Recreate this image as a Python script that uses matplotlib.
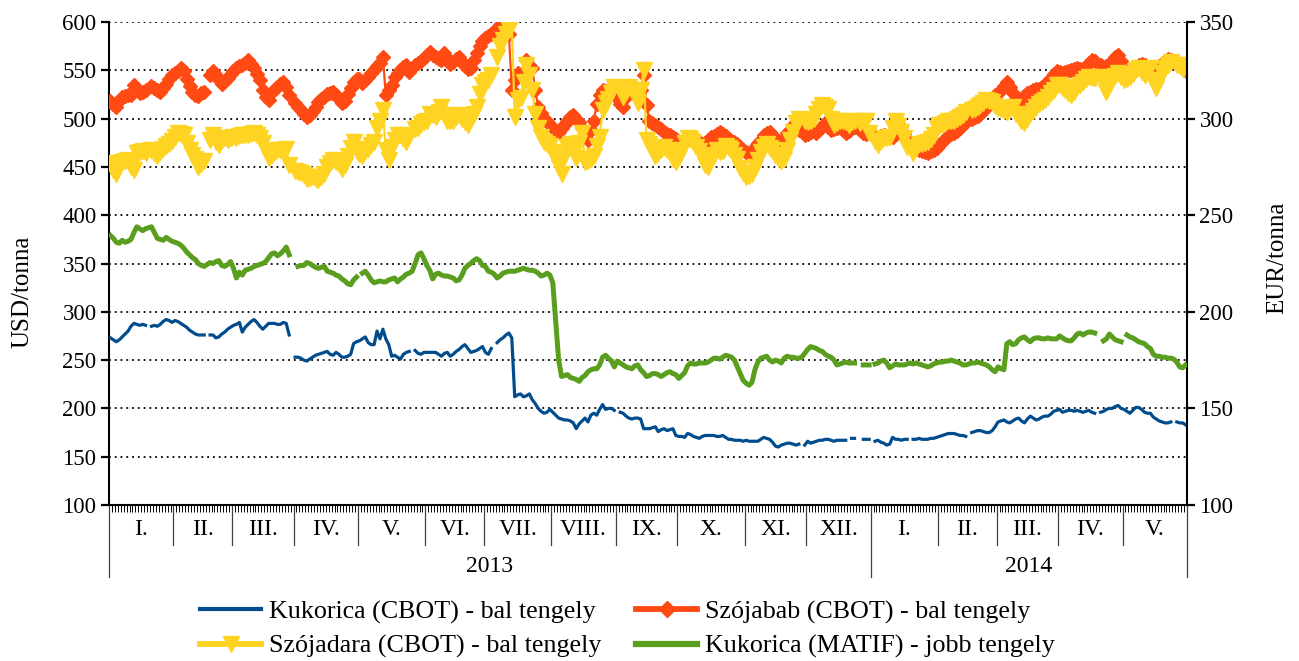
import numpy as np
import pandas as pd
import matplotlib
matplotlib.use("Agg")
import matplotlib.pyplot as plt
import matplotlib.transforms as mtransforms
from matplotlib.lines import Line2D

plt.rcParams['font.family'] = ['Liberation Serif', 'DejaVu Serif']

nan = np.nan

# ---------------- data (one sub-list per month, trading days) ----------------
month_labels = ["I.", "II.", "III.", "IV.", "V.", "VI.", "VII.", "VIII.", "IX.",
                "X.", "XI.", "XII.", "I.", "II.", "III.", "IV.", "V."]
year_labels = ["2013", "2014"]

# Kukorica (CBOT) USD/t
corn_cbot = [
    [273, 271, 269, 271, 274, 277, 280, 285, 288, 287, 286, 287, 286, nan, 285, 286, 285, 287, 290, 292, 291, 289],
    [291, 290, 288, 286, 284, 281, 279, 277, 276, 276, 276, nan, 276, 276, 273, 274, 277, 279, 282, 284],
    [286, 287, 289, 279, 284, 287, 290, 292, 289, 285, 282, 285, 288, 288, 288, 287, 287, 289, 288, 276, nan],
    [253, 253, 252, 250, 249, 251, 253, 255, 256, 257, 258, 259, 256, 255, 258, 256, 253, 253, 254, 256, 267, 269],
    [270, 272, 274, 268, 266, 266, 280, 272, 282, 272, 266, 254, 255, 253, 251, 256, 258, 259, nan, 260, 257, 256, 258],
    [258, 258, 258, 258, 256, 254, 257, 258, 254, 256, 259, 261, 264, 266, 262, 258, 259, 260, 262, 264],
    [258, 256, 262, nan, 268, 271, 273, 276, 278, 273, 212, 214, 215, 212, 213, 215, 209, 205, 200, 197, 195, 196, 199],
    [196, 193, 190, 189, 188, 188, 187, 185, 179, 184, 187, 190, 186, 193, 195, 193, 199, 204, 199, 200, 200, 198],
    [nan, 196, 195, 192, 190, 189, 190, 190, 189, 179, 179, 179, 180, 181, 176, 178, 179, 177, 178, 179, 172],
    [171, 171, 170, 174, 173, 171, 170, 169, 171, 172, 172, 172, 172, 171, 171, 172, 170, 168, 168, 167, 167, 167, 166],
    [167, 166, 166, 166, 166, 168, 170, 169, 168, 165, 161, 160, 162, 163, 164, 164, 163, 162, 163, nan, 162],
    [166, 164, 165, 166, 167, 167, 168, 168, 167, 166, 167, 167, 167, 167, nan, 169, 169, nan, nan, 168, 168, 168],
    [nan, 166, 167, 165, 164, 162, 163, 170, 168, 168, 167, 168, 168, nan, 168, 168, 169, 168, 168, 168, 169, 169, 170],
    [171, 172, 173, 174, 174, 174, 173, 172, 172, 171, nan, 175, 176, 177, 177, 176, 175, 175, 177, 181],
    [186, 187, 188, 186, 185, 187, 189, 190, 187, 185, 189, 192, 190, 188, 189, 191, 192, 192, 194, 197, 198],
    [199, 196, 197, 198, 198, 197, 198, 197, 196, 197, 198, 196, 195, nan, 196, 197, 199, 200, 200, 202, 203, 200],
    [199, 197, 195, 198, 201, 201, 199, 196, 195, 195, 191, 189, 187, 186, 185, 185, 186, nan, 186, 185, 185, 183],
]

# Szójabab (CBOT) USD/t
soybean_cbot = [
    [518, 515, 512, 518, 522, 523, 524, 524, 535, 530, 526, 528, 530, nan, 534, 532, 530, 528, 532, 536, 541, 545],
    [547, 549, 552, 549, 541, 534, 528, 524, 523, 526, 528, nan, 545, 549, 545, 540, 536, 539, 542, 546],
    [549, 552, 554, 555, 558, 561, 557, 552, 546, 540, 530, 522, 519, 528, 531, 533, 536, 538, 533, 524, nan],
    [516, 512, 509, 505, 502, 504, 508, 512, 517, 520, 522, 525, 527, 528, 524, 520, 516, 518, 525, 532, 538, 541],
    [541, 537, 540, 543, 547, 550, 554, 558, 564, 524, 530, 535, 543, 547, 550, 553, 555, 548, nan, 555, 558, 560, 563],
    [566, 569, 566, 564, 562, 561, 568, 563, 557, 559, 562, 564, 559, 554, 551, 552, 561, 568, 575, 580],
    [583, 585, 588, nan, 594, 597, 599, 594, 588, 530, 540, 547, 545, 548, 561, 556, 552, 530, 512, 506, 500, 497, 493],
    [490, 487, 486, 490, 494, 498, 502, 504, 500, 496, 490, 484, 478, 488, 498, 515, 524, 530, 529, 527, 526, 524],
    [nan, 515, 512, 522, 529, 531, 528, 526, 530, 545, 514, 498, 495, 493, 491, 489, 486, 484, 483, 481, 479],
    [475, 474, 476, 479, 481, 481, 479, 476, 474, 475, 478, 481, 482, 484, 486, 484, 482, 479, 477, 476, 474, 471, 467],
    [465, 462, 466, 471, 475, 478, 483, 485, 486, 483, 480, 477, 476, 478, 485, 488, 493, 494, 488, nan, 483],
    [484, 486, 487, 485, 488, 491, 495, 491, 488, 489, 490, 491, 488, 485, 487, 490, 491, nan, 488, 485, 484, 486],
    [nan, 482, 480, 482, 483, 482, 481, 481, 484, 488, 491, 484, 478, nan, 472, 470, 468, 466, 465, 464, 466, 468, 470],
    [473, 476, 479, 482, 484, 485, 487, 490, 493, 496, nan, 500, 502, 503, 505, 508, 511, 515, 519, 524],
    [527, 530, 534, 538, 533, 526, 520, 514, 518, 523, 526, 528, 530, 531, 531, 533, 536, 538, 542, 546, 549],
    [548, 547, 548, 549, 550, 551, 552, 551, 550, 554, 558, 561, 560, nan, 556, 552, 554, 557, 560, 564, 566, 560],
    [551, 548, 547, 549, 552, 555, 557, 555, 552, 550, 549, 551, 554, 557, 560, 562, 561, nan, 557, 555, 553, 549],
]

# Szójadara (CBOT) USD/t
soymeal_cbot = [
    [454, 447, 443, 450, 455, 456, 457, 450, 447, 464, 465, 466, 464, nan, 467, 464, 461, 465, 469, 472, 474, 477],
    [481, 485, 484, 483, 475, 467, 462, 458, 450, 453, 456, nan, 478, 483, 476, 473, 478, 480, 478, 480],
    [481, 480, 482, 483, 483, 483, 484, 485, 483, 480, 475, 466, 459, 462, 465, 467, 467, 467, 469, 452, nan],
    [446, 445, 444, 442, 437, 439, 440, 437, 436, 440, 443, 450, 454, 457, 455, 453, 448, 452, 461, 470, 476, 466],
    [463, 461, 466, 469, 473, 476, 490, 498, 509, 467, 457, 471, 478, 483, 483, 480, 476, 482, nan, 489, 490, 494, 496],
    [498, 505, 504, 502, 507, 512, 504, 498, 497, 498, 502, 504, 500, 496, 493, 500, 505, 512, 525, 535],
    [538, 540, 545, nan, 564, 575, 581, 588, 592, 599, 502, 519, 521, 538, 555, 545, 530, 505, 490, 481, 476, 474, 472],
    [465, 457, 450, 443, 462, 471, 474, 466, 459, 475, 485, 455, 456, 458, 461, 472, 481, 509, 516, 520, 526, 533],
    [nan, 530, 522, 528, 533, 530, 524, 516, 530, 550, 478, 474, 468, 461, 464, 468, 471, 468, 464, 458, 455],
    [460, 467, 475, 480, 479, 476, 471, 466, 461, 452, 450, 458, 462, 467, 465, 466, 472, 470, 467, 462, 458, 449, 444],
    [440, 441, 443, 450, 457, 465, 471, 474, 470, 467, 462, 459, 456, 458, 467, 478, 486, 495, 500, nan, 497],
    [496, 497, 500, 505, 510, 514, 512, 510, 500, 493, 495, 497, 498, 496, 493, 496, 497, nan, 495, 498, 498, 485],
    [nan, 477, 473, 477, 480, 480, 481, 490, 498, 492, 486, 480, 471, nan, 464, 470, 474, 474, 475, 476, 479, 483, 490],
    [493, 493, 495, 497, 498, 498, 500, 502, 504, 507, nan, 509, 510, 512, 514, 516, 519, 518, 517, 513],
    [511, 510, 508, 507, 510, 512, 505, 502, 498, 495, 500, 505, 508, 512, 515, 517, 519, 522, 526, 530, 535],
    [535, 532, 530, 527, 524, 528, 533, 535, 538, 541, 543, 542, 542, nan, 543, 536, 528, 534, 540, 544, 547, 543],
    [540, 541, 543, 546, 550, 552, 548, 545, 549, 552, 540, 532, 540, 547, 552, 556, 559, nan, 556, 554, 551, 555],
]

# Kukorica (MATIF) EUR/t
corn_matif = [
    [239.5, 238, 236, 235.5, 237, 236, 236.5, 237.5, 241, 244, 243, 242, 243, 243.5, 244, 241, 238, 237.5, 237, 238.5, 237.5, 236.5],
    [236, 235.5, 234.5, 233, 231, 229.5, 228, 227, 225, 224, 223.5, 224.5, 225.5, 225, 226, 226.5, 224, 223.5, 224.5, 226],
    [222.5, 217.5, 220.5, 219, 221.5, 222, 222.5, 223.5, 224, 224.5, 225, 226, 228, 230, 230.5, 229, 230, 231.5, 233.5, 229.5, nan],
    [nan, 223.5, 224, 224, 225.5, 225, 224, 223, 222.5, 223, 223.5, 221, 220.5, 220, 219, 218.5, 217, 216, 214.5, 214, 216.5, 218],
    [nan, 220, 221, 219, 216.5, 215, 215.5, 216, 215.5, 215.5, 216.5, 217, 217.5, 215.5, 217, 218, 219.5, 220, 221, 225, 229.5, 230.5, 227.5],
    [224, 221.5, 217, 219.5, 220, 219, 218.5, 218.5, 218, 217.5, 216, 216.5, 219, 222.5, 224, 225, 226.5, 227.5, 226.5, 224],
    [223.5, 221, 220.5, 219.5, 217.5, 218.5, 220, 220.5, 221, 221, 221, 221.5, 222, 222.5, 222, 221.5, 221.5, 221, 220, 218.5, 219, 220, 219],
    [215, 195, 175, 166.5, 167, 167.5, 166, 165.5, 165, 164, 166, 167, 169, 170, 170.5, 170.5, 172.5, 176.5, 177.5, 176, 174.5, 171.5],
    [174.5, 173.5, 172.5, 171.5, 171, 170.5, 172, 172.5, 170, 168.5, 166.5, 167, 168, 168, 167.5, 166.5, 167.5, 168.5, 169, 168, 167.5],
    [165.5, 167, 168.5, 172, 173.5, 173, 173, 173.5, 173.5, 173.5, 174, 175, 176, 176, 175.5, 176.5, 177.5, 177, 176.5, 175, 171.5, 168, 164.5],
    [163, 162, 163.5, 170, 174, 176, 176.5, 177, 175, 174, 175, 174.5, 173.5, 176, 177, 176.5, 176.5, 176, 176, 176.5, 178.5],
    [180.5, 182, 181.5, 181, 180, 179.5, 178, 177, 176.5, 175, 172.5, 173, 173.5, 174, 173.5, 173.5, 173.5, nan, nan, 172.5, 172.5, 172.5],
    [nan, 173, 173.5, 174.5, 175, 173.5, 171, 172, 173, 172.5, 172.5, 172.5, 173, 173.5, 173, 173.5, 173, 172.5, 172, 171.5, 172, 173, 173.5],
    [174, 174, 174.5, 174.5, 175, 174.5, 174, 173.5, 172.5, 172.5, 173, 173.5, 173.5, 174, 173.5, 173, 172.5, 171.5, 170, 169],
    [171.5, 170.5, 170, 183.5, 184.5, 183, 183.5, 185.5, 186.5, 187, 185.5, 184.5, 186, 186.5, 186.5, 186, 186, 186.5, 186, 186, 186],
    [187.5, 186.5, 185.5, 185, 185, 186.5, 188.5, 189, 188, 189, 189.5, 189.5, 189, nan, nan, 185, 186, 188.5, 187, 185.5, 185, 184.5],
    [nan, 188, 187, 186.5, 185.5, 184.5, 184, 183.5, 182, 181, 178, 177, 177, 176.5, 176.5, 176, 176, 175.5, 174, 171.5, 171, 172.5],
]

series_labels = ["Kukorica (CBOT) - bal tengely", "Szójabab (CBOT) - bal tengely",
                 "Szójadara (CBOT) - bal tengely", "Kukorica (MATIF) - jobb tengely"]

# ---------------- calendar (trading-day categories) ----------------
days = pd.bdate_range("2013-01-02", "2014-05-30")
periods = days.to_period("M")
month_periods = periods.unique()
counts = [int((periods == p).sum()) for p in month_periods]
N = len(days)
starts = np.concatenate([[0], np.cumsum(counts)])


def build(monthly):
    vals = np.full(N, np.nan)
    for m, n in enumerate(counts):
        seg = np.array(monthly[m][:n], dtype=float)
        vals[starts[m]:starts[m] + len(seg)] = seg
    return vals


x = np.arange(N) + 0.5
y_corn = build(corn_cbot)
y_bean = build(soybean_cbot)
y_meal = build(soymeal_cbot)
y_matif = build(corn_matif)

c_blue = "#004C8C"
c_red = "#FF4A14"
c_yellow = "#FFD322"
c_green = "#5A9E1E"

W, H = 1299, 661
fig = plt.figure(figsize=(W / 100, H / 100), dpi=100)
ax = fig.add_axes([109 / W, 1 - 505 / H, 1078 / W, 483 / H])
ax.set_xlim(0, N)
ax.set_ylim(100, 600)

for v in range(150, 601, 50):
    ax.axhline(v, color="black", lw=1.3, ls=(0, (1, 2.2)), zorder=0.5)

ax.plot(x, y_corn, color=c_blue, lw=2.3, zorder=3)
ax.plot(x, y_bean, color=c_red, lw=1.6, marker="D", ms=7, mec=c_red, mfc=c_red, zorder=4)
ax.plot(x, y_meal, color=c_yellow, lw=1.6, marker="v", ms=11, mec=c_yellow, mfc=c_yellow, zorder=5)

ax2 = ax.twinx()
ax2.set_ylim(100, 350)
ax2.plot(x, y_matif, color=c_green, lw=3.6, zorder=3)

for a in (ax, ax2):
    a.spines["top"].set_visible(False)
    for s in a.spines.values():
        s.set_linewidth(1.5)
ax.spines["right"].set_visible(False)
ax2.spines["left"].set_visible(False)
ax2.spines["bottom"].set_visible(False)

ax.set_yticks(range(100, 601, 50))
ax.tick_params(axis="y", direction="out", length=6, width=1.6, labelsize=16.5, pad=3)
ax2.set_yticks(range(100, 351, 50))
ax2.tick_params(axis="y", direction="out", length=6, width=1.6, labelsize=16.5, pad=3)
ax.set_xticks(np.arange(0, N + 1))
ax.tick_params(axis="x", direction="out", length=5, width=0.7, labelbottom=False)

trans = mtransforms.blended_transform_factory(ax.transData, ax.transAxes)
year_starts = [0, starts[12], N]
for b in starts:
    y_end = -0.149 if b in year_starts else -0.083
    ax.plot([b, b], [0, y_end], transform=trans, color="#404040", lw=0.9, clip_on=False)

for m, lab in enumerate(month_labels):
    cx = (starts[m] + starts[m + 1]) / 2
    ax.text(cx, -0.050, lab, transform=trans, ha="center", va="center", fontsize=17)
for i, lab in enumerate(year_labels):
    cx = (year_starts[i] + year_starts[i + 1]) / 2
    ax.text(cx, -0.128, lab, transform=trans, ha="center", va="center", fontsize=17)

fig.text(22 / W, 1 - 292 / H, "USD/tonna", rotation=90, ha="center", va="center", fontsize=18)
fig.text(1277 / W, 1 - 258 / H, "EUR/tonna", rotation=90, ha="center", va="center", fontsize=18)

h_corn = Line2D([], [], color=c_blue, lw=3)
h_bean = Line2D([], [], color=c_red, lw=4.2, marker="D", ms=8)
h_meal = Line2D([], [], color=c_yellow, lw=4.2, marker="v", ms=12)
h_matif = Line2D([], [], color=c_green, lw=4.5)
fig.legend(handles=[h_corn, h_meal, h_bean, h_matif],
           labels=[series_labels[0], series_labels[2], series_labels[1], series_labels[3]],
           ncol=2, loc="upper left", bbox_to_anchor=(200 / W, 1 - 600 / H), frameon=False,
           fontsize=18.7, handlelength=2.35, handletextpad=0.3, columnspacing=1.35,
           labelspacing=0.42, borderaxespad=0, borderpad=0)

fig.savefig("out.png", dpi=100)
